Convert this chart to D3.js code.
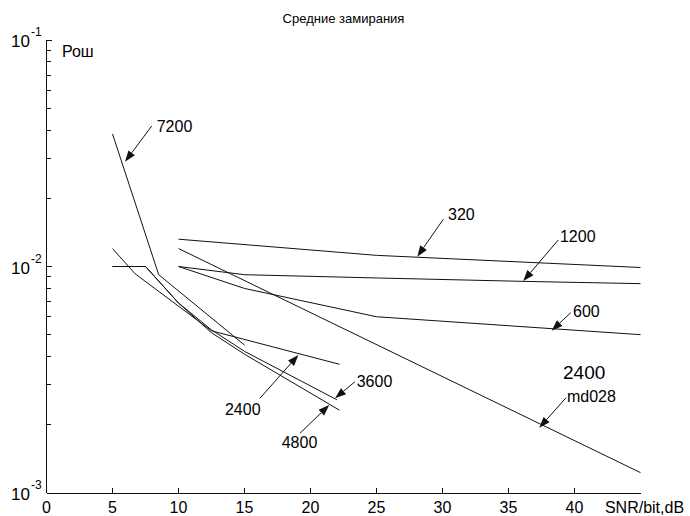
<!DOCTYPE html>
<html>
<head>
<meta charset="utf-8">
<script src="https://cdn.jsdelivr.net/npm/d3@7"></script>
<style>
  body { margin: 0; background: #fff; }
  svg { display: block; font-family: "Liberation Sans", Arial, sans-serif; }
</style>
</head>
<body>
<svg id="chart" width="690" height="516"></svg>
<script>
const title = "Средние замирания";
const yLabel = "Рош";
const xTicks = [0, 5, 10, 15, 20, 25, 30, 35, 40, 45];
const xTickLabels = ["0", "5", "10", "15", "20", "25", "30", "35", "40", "SNR/bit,dB"];
const yExponents = [-3, -2, -1];

// low SNR group (5..22 dB)
const snr7200 = [5, 8.5, 15];
const ber7200 = [0.0385, 0.0092, 0.0045];
const snr2400 = [5, 6.7, 12.5, 22.2];
const ber2400 = [0.012, 0.0093, 0.0052, 0.0037];
const snr3600 = [5, 7.5, 10, 12.5, 15, 22];
const ber3600 = [0.01, 0.01, 0.0069, 0.00525, 0.00422, 0.00258];
const snr4800 = [5, 7.5, 10, 12.5, 15, 22.2];
const ber4800 = [0.01, 0.01, 0.0069, 0.0051, 0.0041, 0.00232];

// high SNR group (10..45 dB)
const snr320 = [10, 25, 45];
const ber320 = [0.0132, 0.0112, 0.0099];
const snr1200 = [10, 15, 25, 36, 45];
const ber1200 = [0.01, 0.0092, 0.0089, 0.0086, 0.0084];
const snr600 = [10, 15, 25, 45];
const ber600 = [0.01, 0.008, 0.006, 0.005];
const snrMd028 = [10, 45];
const berMd028 = [0.012, 0.00123];

const series = [
  { name: "7200", x: snr7200, y: ber7200 },
  { name: "2400", x: snr2400, y: ber2400 },
  { name: "3600", x: snr3600, y: ber3600 },
  { name: "4800", x: snr4800, y: ber4800 },
  { name: "320", x: snr320, y: ber320 },
  { name: "1200", x: snr1200, y: ber1200 },
  { name: "600", x: snr600, y: ber600 },
  { name: "md028", x: snrMd028, y: berMd028 }
];

// callouts: arrow tip, arrow tail, label anchor (data units)
const callouts = [
  { text: "7200", tip: [5.95, 0.029], tail: [7.97, 0.0417], at: [8.35, 0.0393] },
  { text: "320", tip: [28.09, 0.01105], tail: [30.06, 0.01616], at: [30.42, 0.01604] },
  { text: "1200", tip: [36.12, 0.00863], tail: [38.77, 0.0131], at: [38.9, 0.01283] },
  { text: "600", tip: [38.27, 0.00521], tail: [39.71, 0.00625], at: [39.89, 0.00598] },
  { text: "md028", tip: [37.33, 0.00194], tail: [39.36, 0.002634], at: [39.43, 0.002523] },
  { text: "2400", tip: [19.08, 0.004067], tail: [16.17, 0.00262], at: [13.52, 0.00221] },
  { text: "3600", tip: [21.86, 0.00262], tail: [23.37, 0.0031], at: [23.5, 0.002946] },
  { text: "4800", tip: [21.42, 0.002446], tail: [19.2, 0.001835], at: [17.82, 0.001575] }
];
const bigLabel = { text: "2400", at: [39.13, 0.003186] };

const svg = d3.select("#chart");
const x = d3.scaleLinear().domain([0, 45]).range([46.5, 640.5]);
const y = d3.scaleLog().domain([1e-3, 1e-1]).range([493, 40]);
const ink = "#111";

// title + y label
svg.append("text")
  .attr("x", (x(0) + x(45)) / 2)
  .attr("y", 23)
  .attr("text-anchor", "middle")
  .attr("font-size", 13)
  .text(title);

svg.append("text")
  .attr("x", 62)
  .attr("y", 57)
  .attr("font-size", 16)
  .text(yLabel);

// axes lines
const axes = svg.append("g").attr("stroke", ink).attr("stroke-width", 1).attr("shape-rendering", "crispEdges");
axes.append("line")
  .attr("x1", x(0)).attr("x2", x(0))
  .attr("y1", y(1e-1)).attr("y2", y(1e-3));
axes.append("line")
  .attr("x1", x(0)).attr("x2", x(45))
  .attr("y1", y(1e-3)).attr("y2", y(1e-3));

// x ticks (inward)
axes.selectAll(".xt")
  .data(xTicks.slice(1, -1))
  .join("line")
  .attr("x1", d => x(d)).attr("x2", d => x(d))
  .attr("y1", y(1e-3)).attr("y2", y(1e-3) - 5);

svg.append("g")
  .attr("font-size", 16)
  .attr("text-anchor", "middle")
  .selectAll("text")
  .data(xTicks)
  .join("text")
  .attr("x", (d, i) => x(d) + (i === xTicks.length - 1 ? 4 : 0))
  .attr("y", 513)
  .text((d, i) => xTickLabels[i]);

// y ticks: majors + log minors
const minors = [];
yExponents.slice(0, -1).forEach(e => {
  for (let k = 2; k <= 9; k++) minors.push(k * Math.pow(10, e));
});
axes.selectAll(".ymaj")
  .data(yExponents)
  .join("line")
  .attr("x1", x(0)).attr("x2", x(0) + 5)
  .attr("y1", d => y(Math.pow(10, d))).attr("y2", d => y(Math.pow(10, d)));
axes.selectAll(".ymin")
  .data(minors)
  .join("line")
  .attr("x1", x(0)).attr("x2", x(0) + 4)
  .attr("y1", d => y(d)).attr("y2", d => y(d));

const yLab = svg.append("g").selectAll("g")
  .data(yExponents)
  .join("g")
  .attr("transform", d => `translate(0,${y(Math.pow(10, d))})`);
yLab.append("text")
  .attr("x", 30).attr("y", 7)
  .attr("text-anchor", "end")
  .attr("font-size", 17)
  .text("10");
yLab.append("text")
  .attr("x", 31).attr("y", -4)
  .attr("font-size", 12)
  .text(d => String(d));

// curves
const line = d3.line().x(d => x(d[0])).y(d => y(d[1]));
svg.append("g")
  .attr("fill", "none")
  .attr("stroke", ink)
  .attr("stroke-width", 1)
  .selectAll("path")
  .data(series)
  .join("path")
  .attr("d", s => line(s.x.map((v, i) => [v, s.y[i]])));

// callout arrows
const headLen = 11, headHalf = 4;
const cg = svg.append("g");
callouts.forEach(c => {
  const tx = x(c.tip[0]), ty = y(c.tip[1]);
  const sx = x(c.tail[0]), sy = y(c.tail[1]);
  const len = Math.hypot(tx - sx, ty - sy);
  const ux = (tx - sx) / len, uy = (ty - sy) / len;
  const bx = tx - ux * headLen, by = ty - uy * headLen;
  cg.append("line")
    .attr("x1", sx).attr("y1", sy)
    .attr("x2", bx).attr("y2", by)
    .attr("stroke", ink).attr("stroke-width", 1);
  cg.append("path")
    .attr("d", `M${tx},${ty}L${bx - uy * headHalf},${by + ux * headHalf}L${bx + uy * headHalf},${by - ux * headHalf}Z`)
    .attr("fill", ink);
  cg.append("text")
    .attr("x", x(c.at[0])).attr("y", y(c.at[1]))
    .attr("font-size", 16)
    .text(c.text);
});

svg.append("text")
  .attr("x", x(bigLabel.at[0])).attr("y", y(bigLabel.at[1]))
  .attr("font-size", 19)
  .text(bigLabel.text);
</script>
</body>
</html>
